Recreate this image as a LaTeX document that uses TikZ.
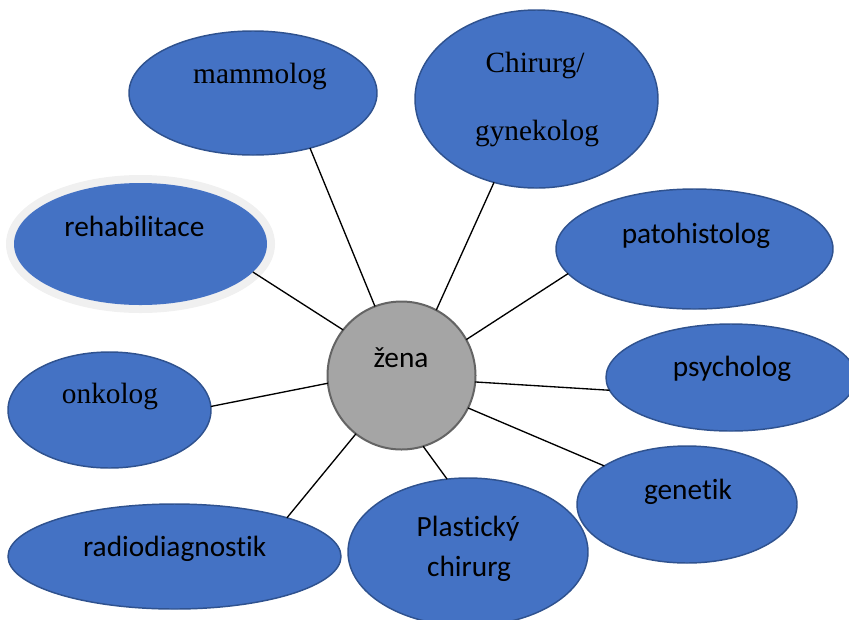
\documentclass[tikz,border=0pt]{standalone}
\usepackage{fontspec}
\setmainfont{Carlito}[Ligatures=NoCommon]
\newfontfamily\timesfont{Liberation Serif}
\usetikzlibrary{shapes.geometric}

\definecolor{blobfill}{RGB}{68,114,196}
\definecolor{blobline}{RGB}{47,82,143}
\definecolor{hubfill}{RGB}{165,165,165}
\definecolor{hubline}{RGB}{100,100,100}
\definecolor{halogray}{RGB}{240,240,240}

\tikzset{every picture/.style={line width=0.75pt}}
\tikzset{
  blob/.style={ellipse, fill=blobfill, draw=blobline, line width=1.1pt, inner sep=0pt, outer sep=0pt},
  sanstext/.style={anchor=base, inner sep=0.75pt, font=\fontsize{22}{26}\selectfont},
  seriftext/.style={anchor=base, inner sep=0.75pt, font=\timesfont\fontsize{22}{26}\selectfont},
  spoke/.style={draw=black, line width=1pt}
}

\begin{document}
\begin{tikzpicture}[x=0.75pt,y=0.75pt,yscale=-1,xscale=1]
\path[use as bounding box] (0,0) rectangle (849,619);

%Shape: Circle [id:hub]
\node [circle, fill=hubfill, draw=hubline, line width=1.5pt, minimum size=111pt, inner sep=0pt, outer sep=0pt] (zena) at (401.5,375.5) {};

%Shape: Ellipse [id:mammolog]
\node [blob, minimum width=186pt, minimum height=93pt] (mam) at (253,93) {};
%Shape: Ellipse [id:chirurg]
\node [blob, minimum width=182.25pt, minimum height=133.5pt] (chir) at (536.5,99) {};
%Shape: Ellipse [id:rehabilitace]
\node [ellipse, fill=blobfill, inner sep=0pt, outer sep=0pt, minimum width=189.75pt, minimum height=91.5pt, preaction={draw=halogray, line width=12pt}] (rehab) at (140.5,244) {};
%Shape: Ellipse [id:patohistolog]
\node [blob, minimum width=207.75pt, minimum height=90pt] (pato) at (694.5,249) {};
%Shape: Ellipse [id:psycholog]
\node [blob, minimum width=187.5pt, minimum height=80.25pt] (psych) at (731,377.5) {};
%Shape: Ellipse [id:genetik]
\node [blob, minimum width=165pt, minimum height=87.75pt] (gen) at (687,504.5) {};
%Shape: Ellipse [id:plasticky]
\node [blob, minimum width=180pt, minimum height=111pt] (plast) at (468,552) {};
%Shape: Ellipse [id:radiodiagnostik]
\node [blob, minimum width=249.75pt, minimum height=78.75pt] (radio) at (174.5,556.5) {};
%Shape: Ellipse [id:onkolog]
\node [blob, minimum width=152.25pt, minimum height=87pt] (onk) at (109.5,410) {};

%Straight Lines
\draw [spoke] (zena.111) -- (mam.-44) ;
\draw [spoke] (zena.62) -- (chir.243) ;
\draw [spoke] (zena.142) -- (rehab.-14.5) ;
\draw [spoke] (zena.29) -- (pato.191) ;
\draw [spoke] (zena.-5) -- (psych.186) ;
\draw [spoke] (zena.-26) -- (gen.155.5) ;
\draw [spoke] (zena.-73) -- (plast.106) ;
\draw [spoke] (zena.232) -- (radio.19) ;
\draw [spoke] (zena.186) -- (onk.2) ;

% Text Node
\node [sanstext] (zenaT) at (401,367) {žena};
% Text Node
\node [seriftext] (mamT) at (260,83) {mammolog};
% Text Node
\node [seriftext] (chirA) at (535,72) {Chirurg/};
% Text Node
\node [seriftext] (chirB) at (537,140) {gynekolog};
% Text Node
\node [sanstext] (rehabT) at (134.5,236) {rehabilitace};
% Text Node
\node [sanstext] (patoT) at (696,243) {patohistolog};
% Text Node
\node [sanstext] (psychT) at (732,376) {psycholog};
% Text Node
\node [sanstext] (genT) at (688,499) {genetik};
% Text Node
\node [sanstext] (plastA) at (468,536) {Plastický};
% Text Node
\node [sanstext] (plastB) at (469,576) {chirurg};
% Text Node
\node [sanstext] (radioT) at (174.7,556) {radiodiagnostik};
% Text Node
\node [seriftext] (onkT) at (110,403) {onkolog};

\end{tikzpicture}
\end{document}
